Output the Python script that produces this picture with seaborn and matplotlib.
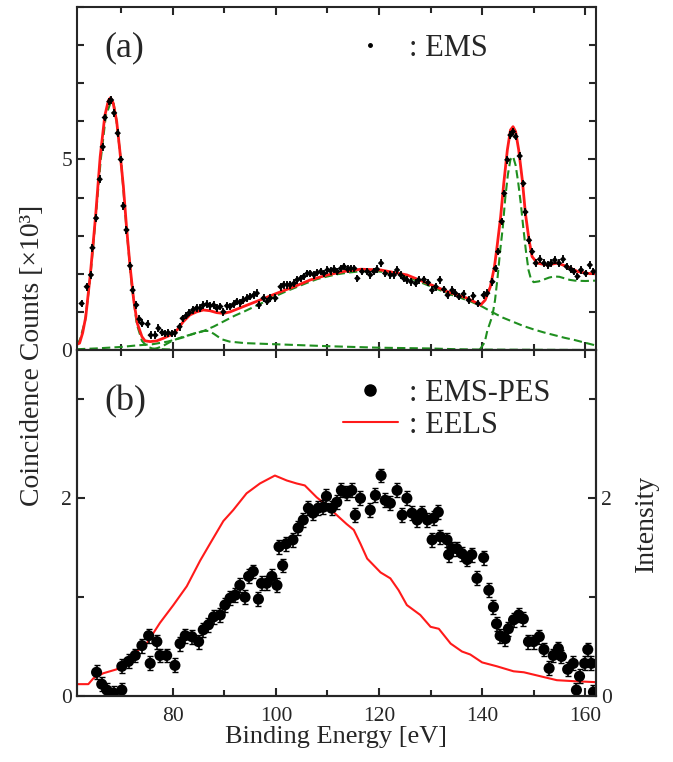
import matplotlib
matplotlib.use("Agg")
import matplotlib.pyplot as plt
import matplotlib.ticker as ticker
from matplotlib.lines import Line2D
import seaborn as sns

# ---- (a) EMS spectrum, counts in units of 10^3 ----
ems_x = [62.3, 63.3, 64.1, 64.4, 65.1, 65.8, 66.4, 66.8, 67.7, 68.0, 68.6, 69.3, 69.9, 70.4,
         71.0, 71.7, 72.2, 72.9, 73.5, 74.0, 75.1, 75.7, 76.6, 77.2, 77.9, 78.5, 79.1, 79.8,
         80.4, 81.3, 81.9, 82.6, 83.2, 83.9, 84.6, 85.3, 85.9, 86.6, 87.2, 87.9, 88.5, 89.2,
         89.8, 90.5, 91.1, 91.8, 92.4, 93.1, 93.7, 94.4, 95.0, 95.7, 96.3, 96.7, 97.6, 98.3,
         98.9, 99.9, 100.9, 101.5, 102.2, 102.8, 103.5, 104.1, 104.8, 105.4, 106.1, 106.7,
         107.4, 108.0, 108.7, 109.3, 110.0, 110.6, 111.3, 111.9, 112.6, 113.2, 113.9, 114.5,
         115.2, 115.8, 116.7, 117.7, 118.3, 119.0, 119.6, 120.4, 121.2, 122.2, 122.9, 123.5,
         124.2, 124.8, 125.4, 126.2, 127.1, 127.7, 128.7, 129.5, 130.3, 131.0, 131.8, 132.6,
         133.3, 134.2, 134.8, 135.5, 136.4, 137.4, 138.3, 139.2, 140.3, 141.0, 142.0, 142.6,
         143.1, 143.8, 144.3, 144.9, 145.5, 146.0, 146.5, 147.3, 148.0, 148.4, 149.1, 149.7,
         150.4, 151.2, 152.0, 152.8, 153.4, 154.1, 154.9, 155.7, 156.4, 157.2, 157.8, 158.5,
         159.2, 160.1, 160.9, 161.6]
ems_y = [1.22, 1.66, 1.97, 2.68, 3.46, 4.48, 5.33, 6.10, 6.52, 6.56, 6.22, 5.69, 5.00, 3.78,
         3.15, 2.21, 1.57, 1.18, 0.81, 0.70, 0.68, 0.39, 0.39, 0.57, 0.46, 0.43, 0.45, 0.43,
         0.45, 0.61, 0.83, 0.90, 0.98, 1.05, 1.10, 1.10, 1.18, 1.20, 1.16, 1.18, 1.10, 1.14,
         1.00, 1.16, 1.14, 1.20, 1.27, 1.24, 1.31, 1.36, 1.40, 1.44, 1.49, 1.18, 1.36, 1.27,
         1.36, 1.36, 1.66, 1.71, 1.71, 1.71, 1.75, 1.84, 1.88, 1.93, 2.01, 2.01,
         1.97, 2.03, 2.06, 2.01, 2.10, 2.08, 2.12, 2.06, 2.14, 2.19, 2.12, 2.14,
         2.14, 1.88, 2.06, 2.06, 1.97, 2.06, 2.12, 2.28, 2.01, 1.97, 1.97, 2.10,
         1.97, 1.88, 1.84, 1.79, 1.75, 1.84, 1.85, 1.77, 1.57, 1.66, 1.84, 1.59,
         1.44, 1.57, 1.49, 1.40, 1.47, 1.31, 1.42, 1.22, 1.44, 1.49, 1.79, 2.14,
         2.58, 3.37, 4.11, 4.99, 5.64, 5.73, 5.60, 5.09, 4.37, 3.62, 2.88, 2.58,
         2.28, 2.38, 2.28, 2.23, 2.28, 2.36, 2.28, 2.38, 2.19, 2.12, 2.06, 1.93,
         2.10, 2.01, 2.23, 2.06]

fit_x = [61.4, 61.9, 62.5, 63.1, 64.0, 65.0, 65.9, 66.8, 67.5, 67.9, 68.4, 69.1, 69.7, 70.4,
         71.0, 71.7, 72.4, 73.1, 74.0, 74.6, 75.6, 76.9, 78.2, 79.5, 80.8, 82.0, 83.3, 84.6,
         85.9, 87.2, 88.5, 89.8, 91.1, 93.7, 96.9, 100.2, 103.5, 106.7, 110.0, 113.2, 116.5,
         120.3, 125.4, 129.4, 133.3, 137.1, 139.7, 140.6, 141.6, 142.4, 142.9, 143.6, 144.2,
         144.9, 145.5, 146.0, 146.5, 147.1, 147.8, 148.4, 149.1, 149.7, 150.7, 152.6, 154.6,
         156.5, 158.5, 160.4, 162.1]
fit_y = [0.15, 0.18, 0.45, 0.87, 2.00, 3.50, 5.07, 6.15, 6.55, 6.62, 6.49, 6.00, 5.25, 4.29,
         3.24, 2.19, 1.31, 0.70, 0.35, 0.24, 0.22, 0.24, 0.31, 0.39, 0.52, 0.74, 0.92, 1.00,
         1.05, 1.03, 0.98, 0.96, 1.00, 1.14, 1.31, 1.49, 1.66, 1.84, 1.97, 2.06, 2.12,
         2.10, 1.97, 1.75, 1.53, 1.36, 1.18, 1.31, 1.66, 2.19, 2.71, 3.50, 4.37,
         5.25, 5.77, 5.86, 5.73, 5.25, 4.46, 3.59, 2.89, 2.45, 2.28, 2.23, 2.28,
         2.19, 2.06, 2.01, 2.00]

# fit components
peak1_x = [61.4, 62.0, 63.0, 64.0, 65.0, 66.0, 67.0, 68.0, 68.5, 69.0, 70.0, 71.0, 72.0,
           73.0, 74.0, 75.0, 76.0, 78.0, 80.0]
peak1_y = [0.13, 0.28, 0.78, 1.93, 3.42, 4.98, 6.15, 6.52, 6.48, 6.08, 4.88, 3.18, 1.72,
           0.68, 0.24, 0.09, 0.04, 0.02, 0.01]
bump_x = [61.4, 65.0, 70.0, 73.0, 76.0, 79.0, 82.0, 84.0, 86.0, 87.0, 88.0, 89.5, 91.0,
          94.0, 100.0, 110.0, 120.0, 130.0, 135.0, 140.0, 162.0]
bump_y = [0.02, 0.04, 0.08, 0.12, 0.15, 0.22, 0.33, 0.43, 0.50, 0.50, 0.42, 0.28, 0.22,
          0.18, 0.15, 0.10, 0.06, 0.04, 0.02, 0.01, 0.00]
broad_x = [76, 78, 80, 82, 84, 86, 88, 90, 92, 94, 96, 98, 100, 102, 104, 106, 108, 110, 112,
           114, 116, 118, 120, 122, 124, 126, 128, 130, 132, 134, 136, 138, 140, 142, 144,
           146, 148, 150, 152, 154, 156, 158, 160, 162]
broad_y = [0.00, 0.10, 0.25, 0.35, 0.42, 0.50, 0.62, 0.76, 0.90, 1.02, 1.15, 1.28, 1.42,
           1.54, 1.65, 1.76, 1.86, 1.93, 1.99, 2.03, 2.06, 2.07, 2.06, 2.03, 1.98, 1.89,
           1.78, 1.67, 1.56, 1.45, 1.36, 1.26, 1.14, 0.99, 0.85, 0.74, 0.63, 0.54, 0.46,
           0.39, 0.32, 0.26, 0.19, 0.12]
peak2_x = [139.5, 140.5, 141.0, 142.0, 142.5, 143.0, 143.5, 144.0, 144.5, 145.0, 145.5,
           146.0, 146.5, 147.0, 147.5, 148.0, 148.5, 149.0, 149.5, 150.0, 151.0, 152.0,
           153.0, 154.0, 155.0, 156.0, 157.0, 158.0, 160.0, 162.0]
peak2_y = [0.00, 0.20, 0.50, 0.90, 1.30, 1.90, 2.60, 3.20, 4.00, 4.60, 5.00, 5.08, 4.85,
           4.40, 3.85, 3.20, 2.60, 2.10, 1.85, 1.78, 1.80, 1.85, 1.90, 1.93, 1.92, 1.88,
           1.84, 1.82, 1.81, 1.82]

# ---- (b) EMS-PES difference and EELS ----
pes_x = [65.2, 66.2, 67.2, 68.5, 70.1, 70.1, 71.4, 72.7, 74.0, 75.3, 75.6, 76.9, 77.5, 78.8,
         80.4, 81.4, 82.4, 83.7, 85.0, 85.9, 86.9, 87.9, 89.2, 90.1, 91.1, 92.1, 93.0, 94.0,
         94.7, 95.6, 96.6, 97.2, 98.2, 99.2, 100.2, 100.6, 101.3, 102.0, 103.3, 104.3, 105.3,
         106.3, 107.2, 108.2, 109.2, 109.8, 110.8, 111.8, 112.7, 113.7, 114.7, 115.4, 116.4,
         118.3, 119.3, 120.4, 121.2, 122.2, 123.5, 124.5, 125.4, 126.4, 127.4, 128.3, 129.4,
         130.3, 130.6, 131.5, 131.9, 133.2, 133.5, 134.2, 135.1, 136.1, 137.1, 138.0, 139.0,
         140.3, 141.3, 142.2, 142.8, 143.5, 144.5, 145.1, 146.1, 147.1, 148.0, 149.0, 150.0,
         151.1, 152.0, 153.0, 153.8, 154.8, 155.4, 156.6, 157.7, 158.3, 158.9, 159.9, 160.5,
         161.2, 161.6]
pes_y = [0.24, 0.12, 0.06, 0.03, 0.06, 0.30, 0.35, 0.41, 0.51, 0.61, 0.33, 0.55, 0.41, 0.41,
         0.31, 0.53, 0.61, 0.60, 0.55, 0.67, 0.72, 0.80, 0.82, 0.92, 0.99, 1.02, 1.12, 1.00,
         1.21, 1.26, 0.98, 1.14, 1.14, 1.21, 1.12, 1.51, 1.32, 1.54, 1.58, 1.70, 1.78,
         1.90, 1.85, 1.90, 1.91, 2.02, 1.90, 1.96, 2.08, 2.05, 2.08, 1.83, 2.00,
         1.88, 2.03, 2.23, 1.98, 1.95, 2.08, 1.83, 2.00, 1.85, 1.78, 1.85, 1.78,
         1.58, 1.80, 1.86, 1.61, 1.58, 1.43, 1.49, 1.49, 1.44, 1.38, 1.43, 1.19,
         1.40, 1.07, 0.90, 0.73, 0.61, 0.58, 0.68, 0.77, 0.82, 0.78, 0.55, 0.55,
         0.60, 0.47, 0.28, 0.41, 0.48, 0.40, 0.27, 0.33, 0.06, 0.20, 0.33, 0.47,
         0.33, 0.04]

eels_x = [61.4, 63.6, 64.6, 66.5, 69.1, 71.7, 74.9, 77.5, 80.1, 82.7, 85.3, 87.2, 89.8, 91.7,
          94.3, 96.9, 99.8, 102.1, 104.0, 105.6, 107.9, 109.8, 111.8, 113.7, 115.1, 116.4,
          117.7, 120.3, 122.2, 123.8, 125.4, 128.0, 130.0, 131.6, 133.9, 136.1, 137.7, 140.0,
          142.9, 146.1, 148.1, 151.3, 154.5, 157.8, 162.1]
eels_y = [0.12, 0.12, 0.18, 0.23, 0.27, 0.40, 0.53, 0.74, 0.92, 1.11, 1.37, 1.54, 1.77, 1.88,
          2.05, 2.15, 2.23, 2.18, 2.15, 2.13, 2.01, 1.93, 1.83, 1.74, 1.68, 1.54,
          1.39, 1.25, 1.19, 1.07, 0.92, 0.82, 0.70, 0.68, 0.53, 0.45, 0.42, 0.34,
          0.30, 0.25, 0.24, 0.20, 0.16, 0.15, 0.14]

sns.set_style("ticks")
plt.rcParams['font.family'] = ['Liberation Serif', 'DejaVu Serif']
plt.rcParams['xtick.direction'] = 'in'
plt.rcParams['ytick.direction'] = 'in'
plt.rcParams['axes.linewidth'] = 1.5

red = '#ff1a1a'
green = '#1f8f1f'
dash = (0, (4, 2))

fig = plt.figure(figsize=(6.73, 7.62), dpi=100)
ax1 = fig.add_axes([0.1144, 0.5407, 0.7712, 0.4501])
ax2 = fig.add_axes([0.1144, 0.0866, 0.7712, 0.4541])

# top panel
for cx, cy in [(peak1_x, peak1_y), (bump_x, bump_y), (broad_x, broad_y), (peak2_x, peak2_y)]:
    sns.lineplot(x=cx, y=cy, ax=ax1, color=green, lw=1.5, linestyle=dash, estimator=None)
sns.lineplot(x=fit_x, y=fit_y, ax=ax1, color=red, lw=2, estimator=None)
ax1.errorbar(ems_x, ems_y, yerr=0.1, fmt='none', ecolor='black', elinewidth=1.3, capsize=0)
sns.scatterplot(x=ems_x, y=ems_y, ax=ax1, color='black', s=11, marker='D', edgecolor='none', zorder=5)

# bottom panel
sns.lineplot(x=eels_x, y=eels_y, ax=ax2, color=red, lw=1.5, estimator=None)
ax2.errorbar(pes_x, pes_y, yerr=0.07, fmt='none', ecolor='black', elinewidth=1.2, capsize=2)
sns.scatterplot(x=pes_x, y=pes_y, ax=ax2, color='black', s=64, edgecolor='none', zorder=5)

for ax in (ax1, ax2):
    ax.set_xlim(61.4, 162.1)
    ax.xaxis.set_major_locator(ticker.MultipleLocator(20))
    ax.xaxis.set_minor_locator(ticker.MultipleLocator(10))
    ax.tick_params(which='both', top=True, labelsize=15.5, width=1.5)
    ax.tick_params(which='major', length=6)
    ax.tick_params(which='minor', length=4)
    ax.tick_params(axis='x', pad=8)
    ax.set_xlabel('')
    ax.set_ylabel('')

ax1.set_ylim(0, 9)
ax1.yaxis.set_major_locator(ticker.MultipleLocator(5))
ax1.yaxis.set_minor_locator(ticker.MultipleLocator(1))
ax1.tick_params(which='both', right=True, labelbottom=False)
ax1.tick_params(axis='y', which='minor', length=5)

ax2.set_ylim(0, 3.5)
ax2.yaxis.set_major_locator(ticker.MultipleLocator(2))
ax2.yaxis.set_minor_locator(ticker.MultipleLocator(1))
ax2.tick_params(axis='y', which='minor', length=5)
ax2.set_xlabel('Binding Energy [eV]', fontsize=19, labelpad=0)

ax3 = ax2.twinx()
ax3.set_ylim(0, 3.5)
ax3.yaxis.set_major_locator(ticker.MultipleLocator(2))
ax3.yaxis.set_minor_locator(ticker.MultipleLocator(1))
ax3.tick_params(which='both', direction='in', labelsize=15.5, width=1.5)
ax3.tick_params(which='major', length=6)
ax3.tick_params(which='minor', length=5)
ax3.set_ylabel('Intensity', fontsize=20, labelpad=16)

fig.text(0.049, 0.534, 'Coincidence Counts [×10³]', rotation=90, fontsize=20,
         ha='center', va='center')

ax1.text(0.052, 0.88, '(a)', transform=ax1.transAxes, fontsize=26, va='center')
ax2.text(0.052, 0.85, '(b)', transform=ax2.transAxes, fontsize=26, va='center')

leg_kw = dict(frameon=False, fontsize=22, handlelength=1.8, handletextpad=0.35,
              borderpad=0, borderaxespad=0, loc='center left')
h1 = [Line2D([], [], ls='none', marker='o', ms=2.5, color='black')]
ax1.legend(h1, [': EMS'], bbox_to_anchor=(0.5125, 0.88), **leg_kw)
h2 = [Line2D([], [], ls='none', marker='o', ms=8, color='black'),
      Line2D([], [], color=red, lw=1.5)]
ax2.legend(h2, [': EMS-PES', ': EELS'], bbox_to_anchor=(0.5125, 0.829),
           labelspacing=0.1, **leg_kw)

fig.savefig('out.png', dpi=100)
